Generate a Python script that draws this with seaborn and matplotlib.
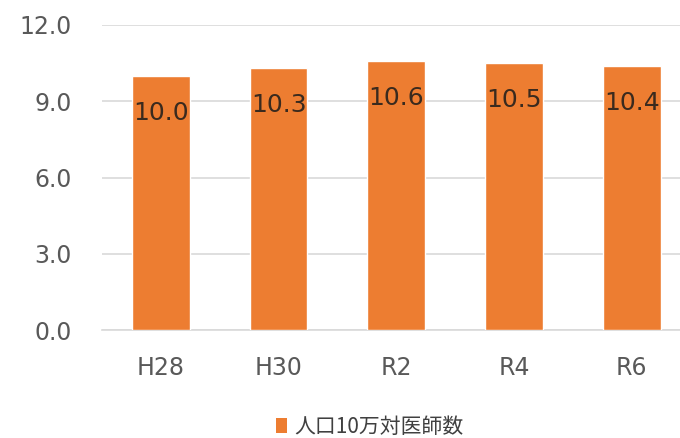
import matplotlib
matplotlib.use("Agg")
import matplotlib.pyplot as plt
import seaborn as sns
import pandas as pd
from matplotlib.patches import Patch

# Physicians per 100,000 population by survey year
years = ["H28", "H30", "R2", "R4", "R6"]
values = [10.0, 10.3, 10.6, 10.5, 10.4]
series_name = "人口10万対医師数"
y_ticks = [0.0, 3.0, 6.0, 9.0, 12.0]

sns.set_theme(style="white")
plt.rcParams["font.family"] = ["DejaVu Sans", "Noto Sans CJK JP"]

bar_color = "#ED7D31"
df = pd.DataFrame({"year": years, "value": values})

fig = plt.figure(figsize=(6.8, 4.38), dpi=100)
ax = fig.add_axes([102 / 680, 1 - 330 / 438, (680 - 102) / 680, (330 - 25) / 438])

sns.barplot(data=df, x="year", y="value", color=bar_color, width=0.49,
            saturation=1, ax=ax, zorder=3)

ax.set_ylim(0, 12)
ax.set_xlim(-0.5, 4.41)
ax.set_yticks(y_ticks)
ax.set_yticklabels([f"{t:.1f}" for t in y_ticks])
ax.yaxis.grid(True, color="#d9d9d9", linewidth=1.2, zorder=0)
ax.set_axisbelow(True)
ax.set_xlabel("")
ax.set_ylabel("")
for s in ["top", "right", "left"]:
    ax.spines[s].set_visible(False)
ax.spines["bottom"].set_color("#d9d9d9")
ax.spines["bottom"].set_linewidth(1.2)
ax.tick_params(axis="y", length=0, pad=22, labelsize=17, labelcolor="#595959")
ax.tick_params(axis="x", length=0, pad=19, labelsize=17, labelcolor="#595959")

# value labels just inside the top of each bar
for i, v in enumerate(values):
    ax.annotate(f"{v:.1f}", xy=(i, v), xytext=(0, -37), textcoords="offset pixels",
                ha="center", va="center", fontsize=18, color="#3a2a1e", zorder=4)

handle = Patch(facecolor=bar_color, edgecolor="none")
fig.legend([handle], [series_name], loc="center", bbox_to_anchor=(370 / 680, 1 - 427 / 438),
           frameon=False, handlelength=0.55, handleheight=0.7, handletextpad=0.35,
           prop={"family": ["Noto Sans CJK JP"], "size": 15}, labelcolor="#404040")

fig.savefig("out.png", dpi=100)
